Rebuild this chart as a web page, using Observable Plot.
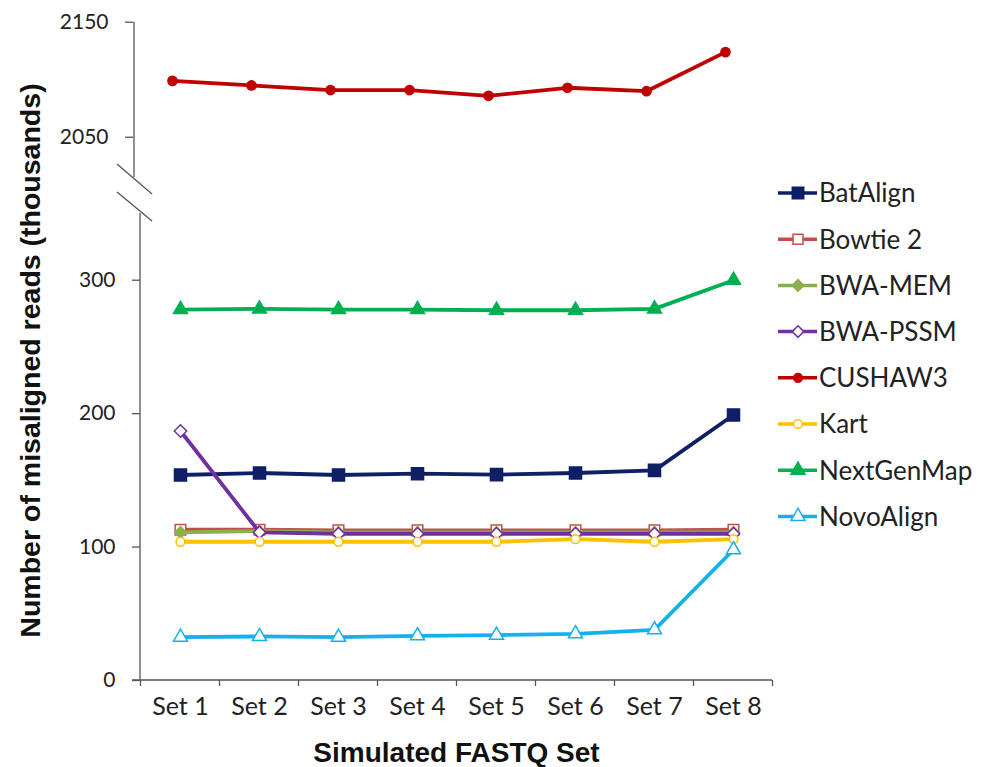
<!DOCTYPE html>
<html>
<head>
<meta charset="utf-8">
<script src="https://cdn.jsdelivr.net/npm/d3@7"></script>
<script src="https://cdn.jsdelivr.net/npm/@observablehq/plot@0.6"></script>
<style>
  body { margin: 0; background: #fff; }
  #chart { width: 987px; height: 767px; }
</style>
</head>
<body>
<div id="chart"></div>
<script>
// ---- data ----
const sets = ["Set 1", "Set 2", "Set 3", "Set 4", "Set 5", "Set 6", "Set 7", "Set 8"];
const seriesNames = ["BatAlign", "Bowtie 2", "BWA-MEM", "BWA-PSSM", "CUSHAW3", "Kart", "NextGenMap", "NovoAlign"];
const batAlign   = [154, 155.5, 154, 155, 154.3, 155.5, 157.5, 199];
const bowtie2    = [113, 113, 112.5, 112.5, 112.5, 112.5, 112.5, 113];
const bwaMem     = [111, 112, 111, 111, 111, 111, 111, 111];
const bwaPssm    = [187, 111, 110, 110, 110, 110, 110, 110];
const cushaw3    = [2099, 2095, 2091, 2091, 2086, 2093, 2090, 2124];
const kart       = [104, 104, 104, 104, 104, 106, 104, 106];
const nextGenMap = [278, 278.5, 278, 278, 277.5, 277.5, 278.5, 300];
const novoAlign  = [32.5, 33, 32.5, 33.5, 34, 35, 38, 98];
const seriesValues = [batAlign, bowtie2, bwaMem, bwaPssm, cushaw3, kart, nextGenMap, novoAlign];

const seriesColors  = ["#0E1F66", "#C0504D", "#8CB04C", "#7030A0", "#C00000", "#FFC000", "#00B050", "#16B0EE"];
const seriesSymbols = ["square", "square", "diamond2", "diamond2", "circle", "circle", "triangle", "triangle"];
const seriesFilled  = [true, false, true, false, true, false, true, false];
const seriesDotR    = [6.8, 6.0, 5.2, 5.6, 4.6, 4.4, 5.2, 5.2];

const yTicksLower = [0, 100, 200, 300];
const yTicksUpper = [2050, 2150];
const yBreakLow = 350;    // top of lower segment
const yBreakHigh = 2015;  // bottom of upper segment
const upperShift = -7;    // upper panel sits slightly left in the original

// tidy rows
const rows = seriesNames.flatMap((name, si) =>
  sets.map((s, i) => ({series: name, set: s, value: seriesValues[si][i]})));

const axisColor = "#555";
const textColor = "#222";

// ---- custom axis lines, ticks and break marks ----
function axesAndBreak(index, scales, values, dims) {
  const g = d3.create("svg:g").attr("fill", "none").attr("stroke", axisColor).attr("stroke-width", 1.3);
  const x0 = dims.marginLeft, x1 = dims.width - dims.marginRight;
  const y = scales.y, x = scales.x;
  const y0 = y(0);
  g.append("line").attr("x1", x0 - 8).attr("x2", x1).attr("y1", y0).attr("y2", y0);
  const step = x(sets[1]) - x(sets[0]);
  for (let i = 0; i <= sets.length; i++) {
    const xx = x(sets[0]) - step / 2 + i * step;
    g.append("line").attr("x1", xx).attr("x2", xx).attr("y1", y0).attr("y2", y0 + 6);
  }
  const yL = y(yBreakLow), yH = y(yBreakHigh);
  g.append("line").attr("x1", x0).attr("x2", x0).attr("y1", y0).attr("y2", yL);
  const xu = x0 + upperShift + 1;
  g.append("line").attr("x1", xu).attr("x2", xu).attr("y1", yH).attr("y2", y(yTicksUpper[1]));
  g.append("line").attr("x1", x0 - 23).attr("x2", x0 + 12).attr("y1", yH - 13).attr("y2", yH + 17);
  g.append("line").attr("x1", x0 - 23).attr("x2", x0 + 12).attr("y1", yL - 21).attr("y2", yL + 8);
  return g.node();
}

// ---- legend ----
function legend(index, scales, values, dims) {
  const g = d3.create("svg:g");
  const lx = dims.width - dims.marginRight + 6;
  seriesNames.forEach((name, i) => {
    const cy = 193 + i * 46.2;
    const c = seriesColors[i];
    g.append("line").attr("x1", lx).attr("x2", lx + 39).attr("y1", cy).attr("y2", cy)
      .attr("stroke", c).attr("stroke-width", 3.5);
    const sym = {square: d3.symbolSquare, diamond2: d3.symbolDiamond2, circle: d3.symbolCircle, triangle: d3.symbolTriangle}[seriesSymbols[i]];
    const size = seriesSymbols[i] === "square" ? (seriesFilled[i] ? 130 : 100)
               : seriesSymbols[i] === "circle" ? 60 : 85;
    g.append("path").attr("d", d3.symbol(sym, size)())
      .attr("transform", `translate(${lx + 20},${cy})`)
      .attr("fill", seriesFilled[i] ? c : "white")
      .attr("stroke", c).attr("stroke-width", 1.5);
    g.append("text").attr("x", lx + 41).attr("y", cy).attr("dy", "0.36em")
      .attr("text-anchor", "start")
      .attr("fill", textColor).attr("font-family", "Lato").attr("font-size", 26)
      .text(name);
  });
  return g.node();
}

const seriesMarks = seriesNames.flatMap((name, si) => {
  const data = rows.filter(d => d.series === name);
  const dx = name === "CUSHAW3" ? upperShift - 1 : 0;
  return [
    Plot.line(data, {x: "set", y: "value", stroke: seriesColors[si], strokeWidth: 3.8, dx}),
    Plot.dot(data, {
      x: "set", y: "value", symbol: () => seriesSymbols[si], r: seriesDotR[si], dx,
      fill: seriesFilled[si] ? seriesColors[si] : "white",
      stroke: seriesColors[si], strokeWidth: 1.5
    })
  ];
});

const chart = Plot.plot({
  width: 987,
  height: 767,
  marginLeft: 140,
  marginRight: 215,
  marginTop: 20,
  marginBottom: 87,
  style: {fontFamily: "Lato", color: textColor, background: "white"},
  x: {type: "point", domain: sets, padding: 0.5},
  y: {type: "linear", domain: [0, yBreakLow, yBreakHigh, 2150], range: [680, 213, 177, 21.7]},
  symbol: {type: "identity"},
  marks: [
    axesAndBreak,
    Plot.axisY({ticks: yTicksLower, tickSize: 8, tickPadding: 17, fontSize: 21, tickFormat: "d", label: null, stroke: axisColor, strokeWidth: 1.3}),
    Plot.axisY({ticks: yTicksUpper, tickSize: 8, tickPadding: 17, fontSize: 21, tickFormat: "d", label: null, stroke: axisColor, strokeWidth: 1.3, dx: upperShift}),
    Plot.axisX({tickSize: 0, tickPadding: 17, fontSize: 25, label: null}),
    ...seriesMarks,
    Plot.text(["Number of misaligned reads (thousands)"], {
      frameAnchor: "left", text: d => d, rotate: -90, dx: -110, dy: 10,
      textAnchor: "middle", lineAnchor: "middle",
      fontSize: 28.5, fontWeight: "bold", fontFamily: "Liberation Sans", fill: "#111"
    }),
    Plot.text(["Simulated FASTQ Set"], {
      frameAnchor: "bottom", text: d => d, dy: 81,
      fontSize: 28, fontWeight: "bold", fontFamily: "Liberation Sans", fill: "#111"
    }),
    legend
  ]
});

document.getElementById("chart").appendChild(chart);
</script>
</body>
</html>
